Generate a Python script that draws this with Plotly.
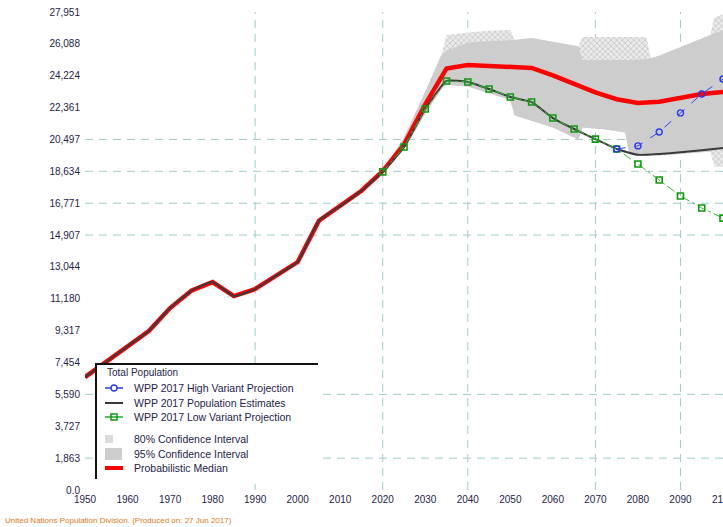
import plotly.graph_objects as go

# ---------------- data ----------------
hist_years = [1950, 1955, 1960, 1965, 1970, 1975, 1980, 1985, 1990, 1995, 2000, 2005, 2010, 2015]
hist_pop = [6600, 7500, 8400, 9300, 10640, 11650, 12160, 11340, 11750, 12550, 13330, 15750, 16600, 17500]

proj_years = [2020, 2025, 2030, 2035, 2040, 2045, 2050, 2055, 2060, 2065, 2070, 2075,
              2080, 2085, 2090, 2095, 2100]
estimate_pop = [18600, 20060, 22280, 23920, 23860, 23450, 22980, 22690, 21750, 21110, 20520, 19940,
                19600, 19650, 19750, 19870, 20000]
median_pop = [18650, 20200, 22550, 24650, 24850, 24800, 24730, 24680, 24250, 23780, 23250, 22850,
              22630, 22700, 22900, 23150, 23270]
low_pop = [18600, 20060, 22280, 23920, 23860, 23450, 22980, 22690, 21750, 21110, 20520, 19940,
           19060, 18130, 17190, 16490, 15900]

high_years = [2075, 2080, 2085, 2090, 2095, 2100]
high_pop = [19940, 20120, 20930, 22050, 23160, 24030]

band_years = [2020, 2025, 2030, 2034, 2035, 2040, 2045, 2050, 2051, 2055, 2060, 2066, 2067,
              2072, 2077, 2078, 2082, 2083, 2085, 2090, 2095, 2097, 2098, 2100]
inner_hi = [18700, 20600, 23300, 25500, 25700, 26150, 26250, 26300, 26310, 26430, 26200, 25950, 25150,
            25150, 25150, 25150, 25200, 25250, 25400, 25900, 26400, 26600, 26700, 26900]
inner_lo = [18500, 19900, 22000, 23500, 23700, 23600, 23200, 22800, 21900, 21600, 21200, 20500, 21200,
            21100, 20900, 19600, 19550, 19550, 19550, 19650, 19750, 19800, 19850, 19950]
outer_hi = [18700, 20600, 23300, 25600, 26600, 26750, 26850, 26900, 26310, 26430, 26200, 25950, 26490,
            26490, 26490, 26490, 26490, 25250, 25400, 25900, 26400, 26600, 27650, 27800]
outer_lo = [18500, 19900, 22000, 23500, 23700, 23600, 23200, 22800, 21900, 21600, 21200, 20500, 21200,
            21100, 20900, 19600, 19550, 19550, 19550, 19650, 19750, 19800, 18900, 18900]

y_tick_vals = [0, 1863.4, 3726.8, 5590.2, 7453.6, 9317, 11180.4, 13043.8, 14907.2, 16770.6,
               18634, 20497.4, 22360.8, 24224.2, 26087.6, 27951]
y_tick_text = ["0.0", "1,863", "3,727", "5,590", "7,454", "9,317", "11,180", "13,044", "14,907",
               "16,771", "18,634", "20,497", "22,361", "24,224", "26,088", "27,951"]
x_tick_vals = [1950, 1960, 1970, 1980, 1990, 2000, 2010, 2020, 2030, 2040, 2050, 2060, 2070,
               2080, 2090]
x_edge_tick = 2100

grid_years = [1990, 2020, 2040, 2070, 2090]
grid_levels = [1863.4, 5590.2, 14907.2, 16770.6, 18634, 20497.4]

legend_title = "Total Population"
legend_names = ["WPP 2017 High Variant Projection", "WPP 2017 Population Estimates",
                "WPP 2017 Low Variant Projection", "80% Confidence Interval",
                "95% Confidence Interval", "Probabilistic Median"]
footer_text = "United Nations Population Division. (Produced on: 27 Jun 2017)"

FONT = "Liberation Sans"
TXT = "#24244a"
BLUE = "#2a3aee"
GREEN = "#22aa22"
BLACK = "#3a3a3a"
RED = "#ff0000"
GRID = "#9fcccc"

W, H = 723, 527
# plot area in page pixels
PL, PR, PT, PB = 85, 723, 12, 490


def px(x):
    return (x - PL) / (PR - PL)


def py(y):
    return (PB - y) / (PB - PT)


fig = go.Figure()

# outer (hatched) band
fig.add_trace(go.Scatter(
    x=band_years + band_years[::-1], y=outer_hi + outer_lo[::-1],
    fill="toself", mode="lines", line=dict(width=0, color="rgba(0,0,0,0)"),
    fillcolor="#e4e4e4",
    fillpattern=dict(shape="x", fgcolor="#a8a8a8", bgcolor="#ebebeb", size=4, solidity=0.4),
    name=legend_names[3], hoverinfo="skip"))
# inner (solid) band
fig.add_trace(go.Scatter(
    x=band_years + band_years[::-1], y=inner_hi + inner_lo[::-1],
    fill="toself", mode="lines", line=dict(width=0, color="rgba(0,0,0,0)"),
    fillcolor="#cdcdcd", name=legend_names[4], hoverinfo="skip"))
# probabilistic median
fig.add_trace(go.Scatter(
    x=hist_years + proj_years, y=hist_pop + median_pop, mode="lines",
    line=dict(color=RED, width=4.5), name=legend_names[5]))
# estimates (black)
fig.add_trace(go.Scatter(
    x=hist_years + proj_years, y=hist_pop + estimate_pop, mode="lines",
    line=dict(color=BLACK, width=2, shape="spline", smoothing=0.4), name=legend_names[1]))
# low variant
fig.add_trace(go.Scatter(
    x=proj_years, y=low_pop, mode="lines+markers",
    line=dict(color="#33bb33", width=1, dash="dashdot"),
    marker=dict(symbol="square-open", size=6, color="#119911", line=dict(width=1.6)),
    name=legend_names[2]))
# high variant
fig.add_trace(go.Scatter(
    x=high_years, y=high_pop, mode="lines+markers",
    line=dict(color="#3344ee", width=1, dash="dash"),
    marker=dict(symbol="circle-open", size=6, color=BLUE, line=dict(width=1.4)),
    name=legend_names[0]))

shapes = []
for yr in grid_years:
    shapes.append(dict(type="line", xref="x", yref="paper", x0=yr, x1=yr, y0=0, y1=1,
                       line=dict(color=GRID, width=1, dash="8px,6px"), layer="below"))
for lv in grid_levels:
    shapes.append(dict(type="line", xref="paper", yref="y", x0=0, x1=1, y0=lv, y1=lv,
                       line=dict(color=GRID, width=1, dash="8px,6px"), layer="below"))

# ---------------- hand-built legend box ----------------
P = dict(xref="paper", yref="paper", layer="above")
shapes.append(dict(type="rect", x0=px(95), x1=px(320), y0=py(364), y1=py(484),
                   fillcolor="white", line=dict(width=0), **P))
shapes.append(dict(type="line", x0=px(95), x1=px(318), y0=py(364), y1=py(364),
                   line=dict(color="#111111", width=2), **P))
shapes.append(dict(type="line", x0=px(96), x1=px(96), y0=py(364), y1=py(479),
                   line=dict(color="#111111", width=2), **P))

rows = [388, 403, 417, 439, 454, 468]
# high variant icon
shapes.append(dict(type="line", x0=px(105), x1=px(123), y0=py(rows[0]), y1=py(rows[0]),
                   line=dict(color=BLUE, width=1.5), **P))
shapes.append(dict(type="circle", x0=px(111), x1=px(117), y0=py(rows[0] + 3), y1=py(rows[0] - 3),
                   line=dict(color=BLUE, width=1.4), fillcolor="white", **P))
# estimates icon
shapes.append(dict(type="line", x0=px(105), x1=px(123), y0=py(rows[1]), y1=py(rows[1]),
                   line=dict(color=BLACK, width=2), **P))
# low variant icon
shapes.append(dict(type="line", x0=px(105), x1=px(123), y0=py(rows[2]), y1=py(rows[2]),
                   line=dict(color=GREEN, width=1.5), **P))
shapes.append(dict(type="rect", x0=px(111), x1=px(117), y0=py(rows[2] + 3), y1=py(rows[2] - 3),
                   line=dict(color="#119911", width=1.5), fillcolor="rgba(0,0,0,0)", **P))
# hatched CI icon
shapes.append(dict(type="rect", x0=px(105), x1=px(113), y0=py(rows[3] + 4), y1=py(rows[3] - 4),
                   line=dict(width=0), fillcolor="#dcdcdc", **P))
# solid CI icon
shapes.append(dict(type="rect", x0=px(105), x1=px(122), y0=py(rows[4] + 6), y1=py(rows[4] - 6),
                   line=dict(width=0), fillcolor="#cdcdcd", **P))
# median icon
shapes.append(dict(type="line", x0=px(105), x1=px(123), y0=py(rows[5]), y1=py(rows[5]),
                   line=dict(color=RED, width=4), **P))

annotations = [dict(text=legend_title, xref="paper", yref="paper", x=px(105), y=py(372),
                    xanchor="left", yanchor="middle", showarrow=False,
                    font=dict(family=FONT, size=10, color=TXT))]
for name, ry in zip(legend_names, rows):
    annotations.append(dict(text=name, xref="paper", yref="paper", x=px(132), y=py(ry),
                            xanchor="left", yanchor="middle", showarrow=False,
                            font=dict(family=FONT, size=10.5, color=TXT)))
annotations.append(dict(text=footer_text, xref="paper", yref="paper", x=px(3), y=py(520),
                        xanchor="left", yanchor="middle", showarrow=False,
                        font=dict(family=FONT, size=8, color="#d97a20")))
# last x label sits on the window edge and is half cut off, as in the reference
annotations.append(dict(text=str(x_edge_tick), xref="x", yref="paper", x=x_edge_tick, y=py(499),
                        xanchor="center", yanchor="middle", showarrow=False,
                        font=dict(family=FONT, size=10, color=TXT)))

fig.update_layout(
    width=W, height=H,
    margin=dict(l=PL, r=W - PR, t=PT, b=H - PB),
    paper_bgcolor="white", plot_bgcolor="white",
    font=dict(family=FONT, size=10, color=TXT),
    shapes=shapes, annotations=annotations,
    showlegend=False,
    xaxis=dict(range=[1950, 2100], tickvals=x_tick_vals, ticks="", showgrid=False,
               zeroline=False, showline=False, ticklabelstandoff=2,
               tickfont=dict(size=10, color=TXT)),
    yaxis=dict(range=[0, 27951], tickvals=y_tick_vals, ticktext=y_tick_text, ticks="",
               showgrid=False, zeroline=False, showline=False, ticklabelstandoff=4,
               tickfont=dict(size=10, color=TXT)),
)

# remove the default page margin so the 723x527 figure fills the window exactly
fig.write_html("out.html", config={"displayModeBar": False},
               post_script="document.body.style.margin='0';document.body.style.overflow='hidden';")
